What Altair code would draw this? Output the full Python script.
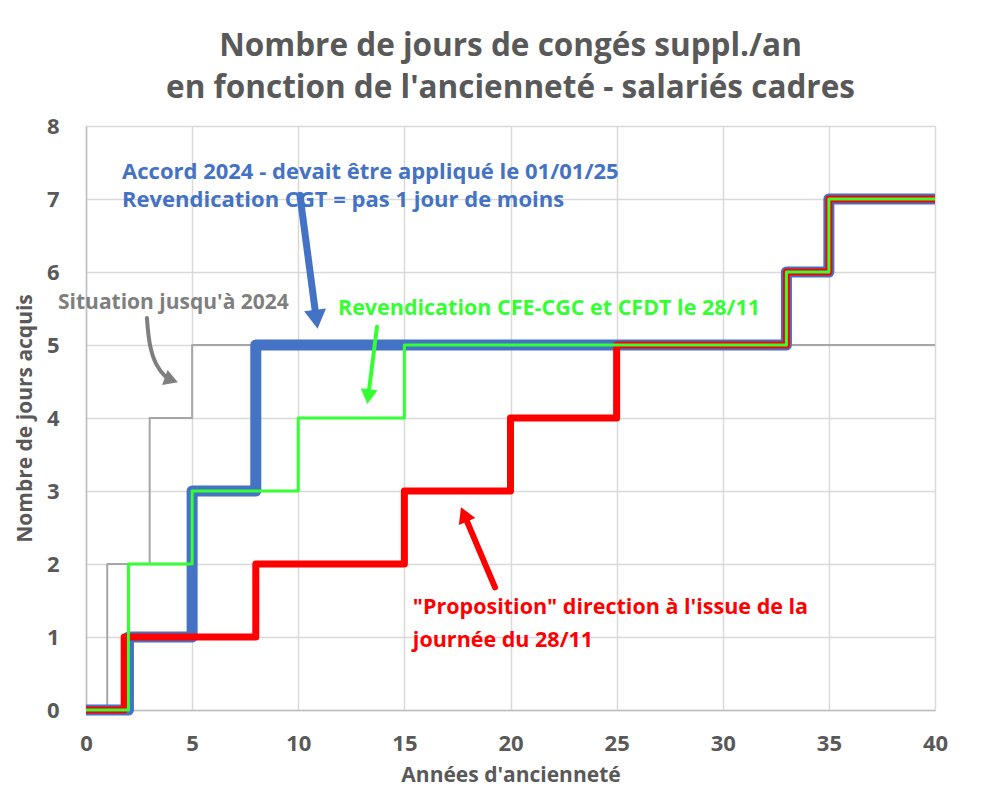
import math
import altair as alt
import pandas as pd

# ---------------- data ----------------
grey_x = [0, 1, 3, 5, 40]
grey_y = [0, 2, 4, 5, 5]
blue_x = [0, 2, 5, 8, 33, 35, 40]
blue_y = [0, 1, 3, 5, 6, 7, 7]
green_x = [0, 2, 5, 10, 15, 33, 35, 40]
green_y = [0, 2, 3, 4, 5, 6, 7, 7]
red_x = [0, 1.8, 8, 15, 20, 25, 33, 35, 40]
red_y = [0, 1, 2, 3, 4, 5, 6, 7, 7]

x_ticks = [0, 5, 10, 15, 20, 25, 30, 35, 40]
y_ticks = [0, 1, 2, 3, 4, 5, 6, 7, 8]

title_lines = ["Nombre de jours de congés suppl./an",
               "en fonction de l'ancienneté - salariés cadres"]
x_title = "Années d'ancienneté"
y_title = "Nombre de jours acquis"

# annotations (data units)
blue_text = ["Accord 2024 - devait être appliqué le 01/01/25",
             "Revendication CGT = pas 1 jour de moins"]
blue_text_x = [1.7, 1.7]
blue_text_y = [7.37, 6.98]
grey_text = ["Situation jusqu'à 2024"]
grey_text_x = [-1.32]
grey_text_y = [5.58]
green_text = ["Revendication CFE-CGC et CFDT le 28/11"]
green_text_x = [11.87]
green_text_y = [5.5]
red_text = ["\"Proposition\" direction à l'issue de la", "journée du 28/11"]
red_text_x = [15.4, 15.4]
red_text_y = [1.4, 0.95]

blue_arrow_x = [10.08, 10.93]
blue_arrow_y = [7.05, 5.18]
green_arrow_x = [13.71, 13.24]
green_arrow_y = [5.25, 4.16]
red_arrow_x = [19.27, 17.62]
red_arrow_y = [1.68, 2.81]
grey_arrow_x = [2.87, 2.97, 3.30, 3.77, 4.43]
grey_arrow_y = [5.37, 5.0, 4.71, 4.55, 4.48]

# ---------------- layout ----------------
W, H = 849, 584
X_DOM, Y_DOM = [0, 40], [0, 8]
PX_X = W / (X_DOM[1] - X_DOM[0])
PX_Y = H / (Y_DOM[1] - Y_DOM[0])
FONT = "Open Sans"

xs = alt.Scale(domain=X_DOM, nice=False, zero=False)
ys = alt.Scale(domain=Y_DOM, nice=False, zero=False)

x_axis = alt.Axis(values=x_ticks, grid=True, gridColor="#d9d9d9", gridWidth=1.5,
                  domainColor="#bfbfbf", domainWidth=1.5, ticks=False,
                  labelFontSize=22, labelFont=FONT, labelFontWeight="bold",
                  labelColor="#595959", labelFlush=False,
                  labelPadding=23, title=x_title, titleFont=FONT, titleFontSize=21,
                  titleFontWeight="bold", titleColor="#595959",
                  titleX=W / 2, titleY=65, titleBaseline="middle")
y_axis = alt.Axis(values=y_ticks, grid=True, gridColor="#d9d9d9", gridWidth=1.5,
                  domainColor="#bfbfbf", domainWidth=1.5, ticks=False,
                  labelFontSize=22, labelFont=FONT, labelFontWeight="bold",
                  labelColor="#595959", labelPadding=27,
                  title=y_title, titleFont=FONT, titleFontSize=21, titleFontWeight="bold",
                  titleColor="#595959", titleAngle=270, titleX=-61, titleY=H / 2,
                  titleAlign="center", titleBaseline="middle")


def X(field="x"):
    return alt.X(f"{field}:Q", scale=xs, axis=x_axis)


def Y(field="y"):
    return alt.Y(f"{field}:Q", scale=ys, axis=y_axis)


def step_layer(xv, yv, color, width):
    df = pd.DataFrame({"x": xv, "y": yv})
    return alt.Chart(df).mark_line(interpolate="step-after", color=color,
                                   strokeWidth=width, strokeJoin="round",
                                   strokeCap="butt").encode(x=X(), y=Y())


def text_layer(texts, tx, ty, color, size):
    df = pd.DataFrame({"t": texts, "x": tx, "y": ty})
    return alt.Chart(df).mark_text(align="left", baseline="middle", font=FONT,
                                   fontWeight="bold", fontSize=size, color=color).encode(
        x=X(), y=Y(), text="t:N")


def arrow_layers(ax, ay, color, width, head_w, interp="linear"):
    # direction of the last segment, in pixel space
    dxp = (ax[-1] - ax[-2]) * PX_X
    dyp = -(ay[-1] - ay[-2]) * PX_Y
    L = math.hypot(dxp, dyp)
    ux, uy = dxp / L, dyp / L
    back = 0.577 * head_w
    cx = ax[-1] - ux * back / PX_X
    cy = ay[-1] + uy * back / PX_Y
    ang = math.degrees(math.atan2(ux, -uy)) % 360
    lx = list(ax[:-1]) + [cx]
    ly = list(ay[:-1]) + [cy]
    ldf = pd.DataFrame({"x": lx, "y": ly, "o": list(range(len(lx)))})
    line = alt.Chart(ldf).mark_line(color=color, strokeWidth=width, strokeCap="round",
                                    interpolate=interp).encode(
        x=X(), y=Y(), order="o:Q")
    hdf = pd.DataFrame({"x": [cx], "y": [cy], "a": [ang]})
    head = alt.Chart(hdf).mark_point(shape="triangle-up", filled=True, opacity=1,
                                     color=color, size=head_w * head_w).encode(
        x=X(), y=Y(), angle=alt.Angle("a:Q", scale=None))
    return [line, head]


layers = [
    step_layer(grey_x, grey_y, "#a6a6a6", 2),
    step_layer(blue_x, blue_y, "#4472c4", 11),
    step_layer(red_x, red_y, "#ff0000", 7),
    step_layer(green_x, green_y, "#33ff33", 3),
    text_layer(blue_text, blue_text_x, blue_text_y, "#4472c4", 22),
    text_layer(grey_text, grey_text_x, grey_text_y, "#7f7f7f", 21),
    text_layer(green_text, green_text_x, green_text_y, "#33ff33", 21.5),
    text_layer(red_text, red_text_x, red_text_y, "#ff0000", 21.5),
]
layers += arrow_layers(blue_arrow_x, blue_arrow_y, "#4472c4", 7, 22)
layers += arrow_layers(green_arrow_x, green_arrow_y, "#33ff33", 4, 17)
layers += arrow_layers(red_arrow_x, red_arrow_y, "#ff0000", 6, 18)
layers += arrow_layers(grey_arrow_x, grey_arrow_y, "#7f7f7f", 4, 16, interp="basis")

chart = alt.layer(*layers).properties(
    width=W, height=H,
    title=alt.TitleParams(text=title_lines, font=FONT, fontSize=31.5, fontWeight="bold",
                          color="#595959", anchor="middle", offset=11, lineHeight=42),
    autosize=alt.AutoSizeParams(type="none"),
    padding={"left": 86, "top": 126, "right": 49, "bottom": 88},
).configure_view(stroke=None).configure(background="white")

chart.save("out.html", embed_options={"renderer": "svg", "actions": False})
